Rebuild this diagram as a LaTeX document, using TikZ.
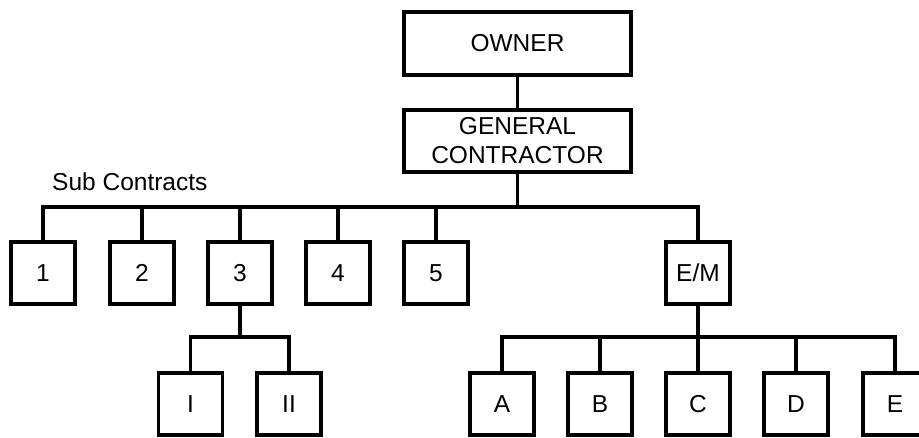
\documentclass[tikz,border=0pt]{standalone}
\usepackage{fontspec}
\setmainfont{Liberation Sans}
\begin{document}
\begin{tikzpicture}[x=1pt,y=-1pt,
  box/.style={draw,line width=3.8pt,minimum width=64pt,minimum height=62.5pt,inner sep=0pt,font=\fontsize{24.5}{29}\selectfont,align=center},
  wide/.style={box,minimum width=227pt},
  conn/.style={line width=3.8pt}]
\useasboundingbox (0,0) rectangle (919,437);
\clip (0,0) rectangle (919,437);
\node[wide,minimum height=63pt] (owner) at (517.5,43.5) {OWNER};
\node[wide] (gc) at (517.5,141) {GENERAL\\CONTRACTOR};
\node[anchor=base west,inner sep=0pt,font=\fontsize{24.5}{29}\selectfont] (sub) at (52,190) {Sub Contracts};
\node[box] (b1) at (43,273) {1};
\node[box] (b2) at (142,273) {2};
\node[box] (b3) at (240,273) {3};
\node[box] (b4) at (338,273) {4};
\node[box] (b5) at (436,273) {5};
\node[box] (em) at (698,273) {E/M};
\node[box] (r1) at (190.5,404) {I};
\node[box] (r2) at (289,404) {II};
\node[box] (a) at (502,404) {A};
\node[box] (b) at (600,404) {B};
\node[box] (c) at (698,404) {C};
\node[box] (d) at (796,404) {D};
\node[box] (e) at (895,404) {E};
\coordinate (bus1) at (517.5,207);
\coordinate (bus2) at (240,337);
\coordinate (bus3) at (698,337);
\draw[conn] (owner) -- (gc);
\draw[conn] (gc.south) -- (bus1);
\foreach \n in {b1,b2,b3,b4,b5,em} \draw[conn] (bus1) -| (\n.north);
\draw[conn] (b3.south) -- (bus2);
\foreach \n in {r1,r2} \draw[conn] (bus2) -| (\n.north);
\draw[conn] (em.south) -- (bus3);
\foreach \n in {a,b,c,d,e} \draw[conn] (bus3) -| (\n.north);
\end{tikzpicture}
\end{document}
